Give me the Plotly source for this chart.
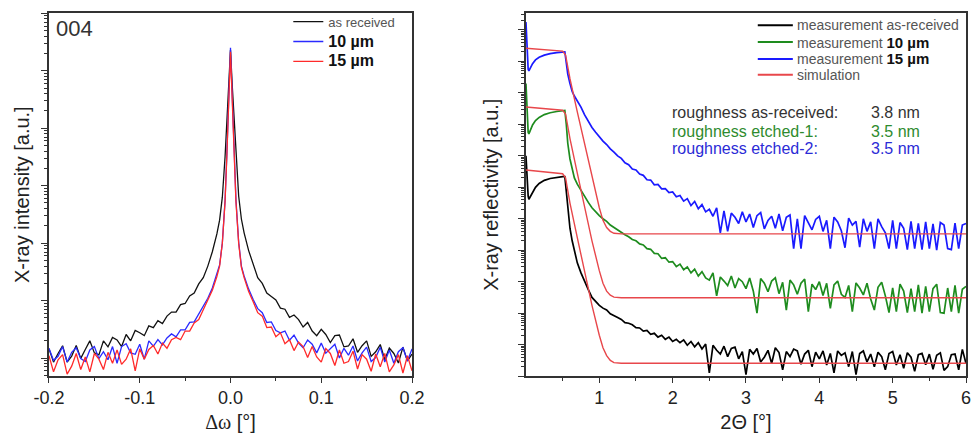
import numpy as np
import plotly.graph_objects as go

# ---------------- Left panel: 004 rocking curves ----------------
OMEGA = [-0.200, -0.195, -0.190, -0.185, -0.180, -0.175, -0.170, -0.165, -0.160, -0.155,
         -0.150, -0.145, -0.140, -0.135, -0.130, -0.125, -0.120, -0.115, -0.110, -0.105,
         -0.100, -0.095, -0.090, -0.085, -0.080, -0.075, -0.070, -0.065, -0.060, -0.055,
         -0.050, -0.045, -0.040, -0.035, -0.030,
         -0.025, -0.020, -0.015, -0.012, -0.009, -0.006, -0.004, -0.002, 0.000,
         0.002, 0.004, 0.006, 0.009, 0.012, 0.015, 0.020, 0.025,
         0.030, 0.035, 0.040, 0.045, 0.050, 0.055, 0.060, 0.065, 0.070, 0.075,
         0.080, 0.085, 0.090, 0.095, 0.100, 0.105, 0.110, 0.115, 0.120, 0.125,
         0.130, 0.135, 0.140, 0.145, 0.150, 0.155, 0.160, 0.165, 0.170, 0.175,
         0.180, 0.185, 0.190, 0.195, 0.200]

# log10 of intensity (a.u.)
LOG_I_ASREC = [0.16, -0.07, 0.08, 0.215, -0.07, 0.035, 0.22, -0.005, 0.15, 0.30,
               0.09, 0.055, 0.30, 0.195, 0.36, 0.315, 0.20, 0.41, 0.30, 0.48,
               0.44, 0.39, 0.56, 0.53, 0.65, 0.60, 0.73, 0.80, 0.80, 0.93,
               0.95, 1.08, 1.13, 1.29, 1.40,
               1.60, 1.85, 2.16, 2.40, 2.80, 3.50, 4.10, 4.70, 5.36,
               4.72, 4.12, 3.52, 2.82, 2.42, 2.18, 1.87, 1.62,
               1.40, 1.30, 1.13, 1.07, 1.01, 0.87, 0.85, 0.71, 0.75, 0.67,
               0.54, 0.62, 0.47, 0.39, 0.50, 0.41, 0.27, 0.39, 0.40, 0.195,
               0.21, 0.335, 0.10, 0.215, 0.30, 0.03, 0.11, 0.235, -0.03, 0.175,
               0.08, -0.085, 0.19, -0.05, 0.07]

LOG_I_10UM = [0.17, -0.04, 0.03, 0.20, -0.07, 0.10, 0.18, -0.01, -0.06, 0.14,
              0.20, -0.01, 0.11, -0.03, 0.20, -0.09, 0.20, 0.25, 0.09, 0.065,
              0.24, -0.02, 0.30, 0.205, 0.32, 0.23, 0.35, 0.42, 0.37, 0.49,
              0.49, 0.62, 0.63, 0.77, 0.90,
              1.04, 1.22, 1.45, 1.62, 2.00, 2.74, 3.55, 4.50, 5.40,
              4.52, 3.58, 2.76, 2.02, 1.60, 1.43, 1.20, 1.02,
              0.86, 0.79, 0.62, 0.63, 0.48, 0.44, 0.47, 0.31, 0.40, 0.26,
              0.18, 0.315, 0.24, 0.09, 0.26, 0.085, 0.16, 0.24, 0.00, 0.17,
              0.05, 0.21, -0.05, 0.09, 0.19, -0.06, 0.01, 0.19, -0.07, 0.14,
              -0.09, 0.11, 0.18, -0.05, 0.16]

LOG_I_15UM = [0.04, -0.24, -0.03, 0.06, -0.28, -0.14, 0.08, -0.20, 0.02, -0.24,
              0.08, -0.02, -0.20, 0.10, -0.09, 0.14, -0.11, -0.02, 0.16, -0.225,
              0.16, -0.02, 0.15, 0.22, 0.07, 0.26, 0.17, 0.32, 0.36, 0.32,
              0.47, 0.47, 0.61, 0.67, 0.84,
              1.00, 1.18, 1.42, 1.60, 2.00, 2.72, 3.52, 4.45, 5.33,
              4.45, 3.52, 2.72, 2.00, 1.58, 1.40, 1.16, 0.98,
              0.79, 0.73, 0.53, 0.54, 0.37, 0.44, 0.25, 0.32, 0.13, 0.28,
              0.20, 0.01, 0.20, 0.02, -0.07, 0.165, 0.08, -0.13, 0.14, -0.09,
              -0.06, 0.12, -0.19, 0.06, -0.02, -0.23, 0.07, -0.15, 0.08, -0.24,
              -0.12, 0.06, -0.26, 0.04, -0.22]

OMEGA_TICKS = [-0.2, -0.1, 0.0, 0.1, 0.2]
OMEGA_TICKTEXT = ["-0.2", "-0.1", "0.0", "0.1", "0.2"]
OMEGA_MINOR = [-0.15, -0.05, 0.05, 0.15]

# ---------------- Right panel: X-ray reflectivity ----------------
TWO_THETA = [0.00, 0.01, 0.02, 0.03, 0.04, 0.06, 0.09, 0.13, 0.18, 0.25,
             0.33, 0.42, 0.50, 0.53, 0.55, 0.57, 0.60, 0.63, 0.66, 0.70,
             0.75, 0.80, 0.85, 0.90, 0.95,
             1.00, 1.05, 1.10, 1.15, 1.20, 1.25, 1.30, 1.35, 1.40, 1.45,
             1.50, 1.55, 1.60, 1.65, 1.70, 1.75, 1.80, 1.85, 1.90, 1.95,
             2.00, 2.05, 2.10, 2.15, 2.20, 2.25, 2.30, 2.35, 2.40, 2.45,
             2.50, 2.55, 2.60, 2.65, 2.70, 2.75, 2.80, 2.85, 2.90, 2.95,
             3.00, 3.05, 3.10, 3.15, 3.20, 3.25, 3.30, 3.35, 3.40, 3.45,
             3.50, 3.55, 3.60, 3.65, 3.70, 3.75, 3.80, 3.85, 3.90, 3.95,
             4.00, 4.05, 4.10, 4.15, 4.20, 4.25, 4.30, 4.35, 4.40, 4.45,
             4.50, 4.55, 4.60, 4.65, 4.70, 4.75, 4.80, 4.85, 4.90, 4.95,
             5.00, 5.05, 5.10, 5.15, 5.20, 5.25, 5.30, 5.35, 5.40, 5.45,
             5.50, 5.55, 5.60, 5.65, 5.70, 5.75, 5.80, 5.85, 5.90, 5.95,
             6.00]

# log10 of reflectivity (a.u., curves stacked)
LOG_R_ASREC = [7.00, 6.50, 6.00, 5.72, 5.62, 5.70, 5.85, 6.00, 6.12, 6.22,
               6.28, 6.32, 6.34, 6.34, 5.90, 5.30, 4.70, 4.30, 3.95, 3.60,
               3.28, 3.00, 2.75, 2.50, 2.37,
               2.25, 2.16, 2.10, 1.98, 1.93, 1.86, 1.80, 1.70, 1.68, 1.63,
               1.54, 1.53, 1.43, 1.45, 1.33, 1.36, 1.24, 1.30, 1.17, 1.24,
               1.10, 1.17, 1.06, 1.15, 0.98, 1.10, 0.93, 1.06, 0.86, 1.02,
               0.10, 0.98, 0.82, 0.70, 0.95, 0.62, 0.88, 0.92, 0.55, 0.78,
               0.05, 0.85, 0.70, 0.88, 0.45, 0.60, 0.82, 0.40, 0.90, 0.75,
               0.20, 0.78, 0.62, 0.86, 0.80, 0.38, 0.70, 0.82, 0.30, 0.76,
               0.55, 0.80, 0.35, 0.72, 0.10, 0.80, 0.66, 0.74, 0.30, 0.78,
               0.05, 0.72, 0.80, 0.45, 0.70, 0.30, 0.76, 0.62, 0.20, 0.72,
               0.78, 0.35, 0.68, 0.25, 0.74, 0.60, 0.15, 0.68, 0.72, 0.36,
               0.70, 0.22, 0.66, 0.74, 0.18, 0.30, 0.68, 0.70, 0.20, 0.85,
               0.40]

LOG_R_10UM = [9.30, 8.60, 8.00, 7.75, 7.70, 7.82, 7.98, 8.12, 8.22, 8.31,
              8.37, 8.41, 8.44, 8.44, 8.00, 7.40, 6.90, 6.55, 6.30, 6.10,
              5.90, 5.70, 5.52, 5.35, 5.22,
              5.10, 5.00, 4.92, 4.80, 4.72, 4.64, 4.58, 4.49, 4.43, 4.34,
              4.30, 4.20, 4.17, 4.05, 4.03, 3.90, 3.89, 3.74, 3.76, 3.62,
              3.64, 3.48, 3.56, 3.38, 3.47, 3.28, 3.40, 3.18, 3.32, 3.12,
              3.05, 3.28, 2.55, 3.15, 3.02, 2.88, 3.18, 2.80, 3.10, 3.00,
              2.78, 3.12, 2.70, 2.00, 3.10, 2.95, 2.68, 3.02, 3.12, 2.62,
              2.98, 2.10, 3.05, 2.90, 2.60, 2.95, 3.08, 2.05, 2.92, 2.75,
              3.00, 2.56, 2.95, 2.15, 2.90, 3.02, 2.60, 2.50, 2.88, 2.05,
              2.96, 2.80, 2.58, 2.95, 2.45, 2.10, 2.82, 2.98, 2.55, 2.02,
              2.80, 2.05, 2.92, 2.70, 2.02, 2.78, 2.05, 2.90, 2.00, 2.85,
              2.05, 2.78, 2.92, 2.02, 2.00, 2.80, 2.05, 2.88, 2.00, 2.76,
              2.85]

LOG_R_15UM = [11.25, 10.60, 10.00, 9.75, 9.70, 9.80, 9.93, 10.05, 10.13, 10.20,
              10.25, 10.28, 10.30, 10.30, 9.95, 9.60, 9.30, 9.05, 8.90, 8.75,
              8.55, 8.30, 8.10, 7.90, 7.75,
              7.60, 7.47, 7.36, 7.22, 7.12, 7.00, 6.92, 6.78, 6.72, 6.58,
              6.55, 6.42, 6.38, 6.24, 6.23, 6.08, 6.09, 5.95, 5.96, 5.83,
              5.85, 5.70, 5.74, 5.56, 5.64, 5.42, 5.55, 5.32, 5.45, 5.22,
              5.30, 5.08, 5.35, 4.55, 5.25, 4.60, 5.18, 5.05, 4.85, 5.22,
              4.90, 5.15, 4.72, 5.10, 5.20, 4.68, 4.95, 5.08, 4.70, 5.15,
              4.62, 5.05, 5.12, 4.05, 5.00, 4.05, 5.10, 4.88, 4.65, 4.98,
              5.08, 4.60, 4.95, 4.05, 5.05, 4.90, 4.62, 4.08, 5.02, 4.80,
              4.92, 4.10, 5.00, 4.60, 4.90, 4.05, 5.00, 4.75, 4.55, 4.05,
              4.95, 4.05, 4.88, 4.70, 4.02, 4.92, 4.05, 4.85, 4.02, 4.90,
              4.05, 4.84, 4.00, 4.88, 4.80, 4.05, 4.02, 4.86, 4.05, 4.80,
              4.85]

SIM_X = [0.00, 0.25, 0.50, 0.54, 0.60, 0.70, 0.80, 0.90, 1.00, 1.05, 1.10, 1.15, 1.20, 1.30, 6.00]
LOG_SIM_ASREC = [6.55, 6.50, 6.43, 6.30, 5.50, 4.40, 3.30, 2.25, 1.30, 0.90, 0.65, 0.50, 0.43, 0.41, 0.41]
LOG_SIM_10UM = [8.55, 8.50, 8.45, 8.33, 7.55, 6.45, 5.35, 4.30, 3.35, 2.95, 2.70, 2.57, 2.51, 2.49, 2.49]
LOG_SIM_15UM = [10.42, 10.38, 10.33, 10.20, 9.45, 8.40, 7.35, 6.30, 5.35, 4.95, 4.72, 4.60, 4.54, 4.52, 4.52]

TWO_THETA_TICKS = [1, 2, 3, 4, 5, 6]
TWO_THETA_MINOR = [0.5, 1.5, 2.5, 3.5, 4.5, 5.5]

ROUGHNESS_LABELS = ["roughness as-received:", "roughness etched-1:", "roughness etched-2:"]
ROUGHNESS_VALUES = ["3.8 nm", "3.5 nm", "3.5 nm"]
ROUGHNESS_COLORS = ["#333333", "#2e8b2e", "#2b2bd6"]

RIGHT_LEGEND_LABELS = [
    "measurement as-received",
    "measurement <b><span style='font-size:15px;color:#111'>10 µm</span></b>",
    "measurement <b><span style='font-size:15px;color:#111'>15 µm</span></b>",
    "simulation",
]
RIGHT_LEGEND_COLORS = ["#000000", "#1e8c1e", "#1a1aff", "#e8474b"]

FONT = "Liberation Sans, Arial, sans-serif"
AX = "#333333"

fig = go.Figure()

# Left traces
left_specs = [
    (LOG_I_ASREC, "#111111", "<span style='color:#555'>as received</span>"),
    (LOG_I_10UM, "#2a2aff", "<b><span style='font-size:16px;color:#111'>10 µm</span></b>"),
    (LOG_I_15UM, "#ff2a2a", "<b><span style='font-size:16px;color:#111'>15 µm</span></b>"),
]
for vals, col, label in left_specs:
    fig.add_trace(go.Scatter(
        x=OMEGA, y=np.power(10.0, np.array(vals)), mode="lines",
        line=dict(color=col, width=1.3), name=label,
        xaxis="x", yaxis="y", legend="legend"))

# Right measurement traces
for vals, col in [(LOG_R_ASREC, "#000000"), (LOG_R_10UM, "#1e8c1e"), (LOG_R_15UM, "#1a1aff")]:
    fig.add_trace(go.Scatter(
        x=TWO_THETA, y=np.power(10.0, np.array(vals)), mode="lines",
        line=dict(color=col, width=1.7), showlegend=False,
        xaxis="x2", yaxis="y2"))
# Right simulation traces
for vals in [LOG_SIM_ASREC, LOG_SIM_10UM, LOG_SIM_15UM]:
    fig.add_trace(go.Scatter(
        x=SIM_X, y=np.power(10.0, np.array(vals)), mode="lines",
        line=dict(color="#e8474b", width=1.4), showlegend=False,
        xaxis="x2", yaxis="y2"))

ydom = [0.151, 0.970]
common_axis = dict(showline=True, linecolor=AX, linewidth=1.5, mirror=True,
                   showgrid=False, zeroline=False, ticks="outside",
                   tickcolor=AX, tickwidth=1.2, automargin=False,
                   tickfont=dict(family=FONT, size=18, color="#222"))

fig.update_layout(
    width=974, height=443,
    margin=dict(l=0, r=0, t=0, b=0, autoexpand=False),
    paper_bgcolor="white", plot_bgcolor="white",
    font=dict(family=FONT, color="#222"),
    xaxis=dict(domain=[0.0503, 0.4230], range=[-0.2, 0.2], anchor="y",
               tickmode="array", tickvals=OMEGA_TICKS, ticktext=OMEGA_TICKTEXT,
               ticklen=5,
               minor=dict(tickmode="array", tickvals=OMEGA_MINOR, ticks="outside", ticklen=3,
                          tickcolor=AX, showgrid=False),
               title=dict(text="<span style='font-family:Liberation Serif'>Δω</span> [°]",
                          font=dict(family=FONT, size=20, color="#222"), standoff=8),
               **common_axis),
    yaxis=dict(domain=ydom, type="log", range=[-0.314, 6.0], anchor="x",
               dtick=1, showticklabels=False, ticklen=6,
               minor=dict(ticks="outside", ticklen=3, tickcolor=AX, showgrid=False),
               title=dict(text="X-ray intensity [a.u.]",
                          font=dict(family=FONT, size=20, color="#222"), standoff=6),
               **common_axis),
    xaxis2=dict(domain=[0.5400, 0.9918], range=[0, 6], anchor="y2",
                tickmode="array", tickvals=TWO_THETA_TICKS, ticklen=5,
                minor=dict(tickmode="array", tickvals=TWO_THETA_MINOR, ticks="outside", ticklen=3,
                           tickcolor=AX, showgrid=False),
                title=dict(text="2Θ [°]", font=dict(family=FONT, size=20, color="#222"), standoff=8),
                **common_axis),
    yaxis2=dict(domain=ydom, type="log", range=[0, 11.53], anchor="x2",
                dtick=1, showticklabels=False, ticklen=6,
                minor=dict(ticks="outside", ticklen=3, tickcolor=AX, showgrid=False),
                title=dict(text="X-ray reflectivity [a.u.]",
                           font=dict(family=FONT, size=20, color="#222"), standoff=14),
                **common_axis),
    legend=dict(x=0.296, y=0.985, xanchor="left", yanchor="top",
                bgcolor="rgba(0,0,0,0)", borderwidth=0,
                font=dict(family=FONT, size=13, color="#555"),
                itemwidth=30, tracegroupgap=0),
    showlegend=True,
)

# "004" label
fig.add_annotation(text="004", xref="paper", yref="paper", x=0.055, y=0.935,
                   xanchor="left", yanchor="middle", showarrow=False,
                   font=dict(family=FONT, size=22, color="#333"))

# Right-panel hand-drawn legend (layout elements)
leg_rows_y = [0.943, 0.905, 0.867, 0.831]
for yy, lab, col in zip(leg_rows_y, RIGHT_LEGEND_LABELS, RIGHT_LEGEND_COLORS):
    fig.add_shape(type="line", xref="paper", yref="paper", x0=0.778, x1=0.814, y0=yy, y1=yy,
                  line=dict(color=col, width=2))
    fig.add_annotation(text=lab, xref="paper", yref="paper", x=0.816, y=yy,
                       xanchor="left", yanchor="middle", showarrow=False,
                       font=dict(family=FONT, size=14, color="#555"))

# Roughness annotations
rough_y = [0.745, 0.704, 0.664]
for yy, lab, val, col in zip(rough_y, ROUGHNESS_LABELS, ROUGHNESS_VALUES, ROUGHNESS_COLORS):
    fig.add_annotation(text=lab, xref="paper", yref="paper", x=0.688, y=yy,
                       xanchor="left", yanchor="middle", showarrow=False,
                       font=dict(family=FONT, size=16, color=col))
    fig.add_annotation(text=val, xref="paper", yref="paper", x=0.892, y=yy,
                       xanchor="left", yanchor="middle", showarrow=False,
                       font=dict(family=FONT, size=16, color=col))

fig.write_html("out.html",
               config={"displayModeBar": False},
               post_script="document.body.style.margin='0px';document.body.style.overflow='hidden';")
